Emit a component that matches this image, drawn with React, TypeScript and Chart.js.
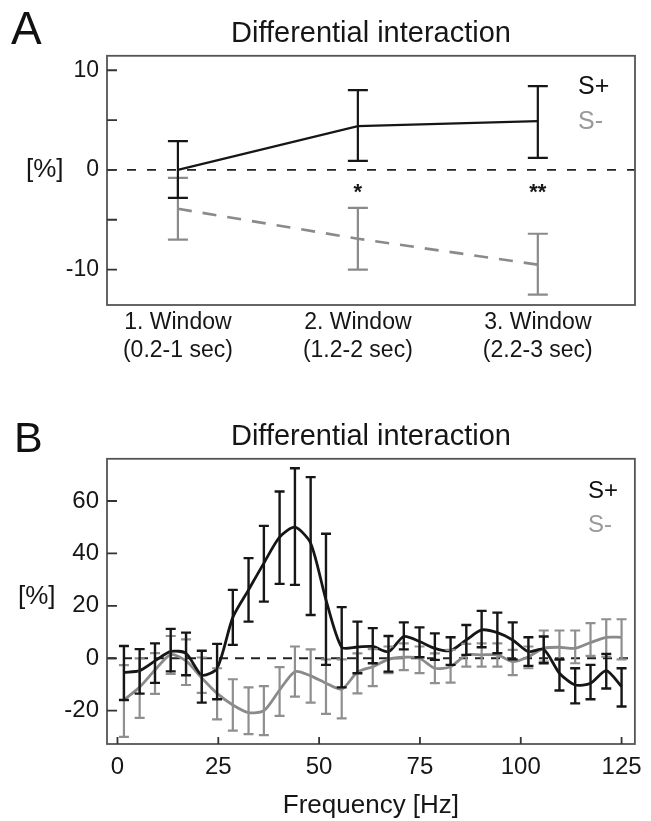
import React, { useEffect, useRef } from 'react';
import { Chart, registerables } from 'chart.js';

Chart.register(...registerables);

const FONT = "'Liberation Sans', Arial, Helvetica, sans-serif";
const TXT = '#161616';
const BLACK = '#161616';
const GRAY = '#8a8a8a';

// ---------- Panel A data ----------
const windowPositions = [1, 2, 3];
const windowLabels = [
  ['1. Window', '(0.2-1 sec)'],
  ['2. Window', '(1.2-2 sec)'],
  ['3. Window', '(2.2-3 sec)'],
];
const aSPlusMean = [0, 4.4, 4.9];
const aSPlusUpper = [2.9, 8.0, 8.4];
const aSPlusLower = [-2.8, 0.9, 1.2];
const aSMinusMean = [-3.9, -6.9, -9.5];
const aSMinusUpper = [-0.8, -3.8, -6.4];
const aSMinusLower = [-7.0, -10.0, -12.5];
const aSigMarks = ['', '*', '**'];
const aYTicks = [-10, -5, 0, 5, 10];
const aYTickLabels = ['-10', '', '0', '', '10'];

// ---------- Panel B data ----------
const freqHz = [
  1.6, 5.5, 9.3, 13.2, 17.0, 20.9, 24.7, 28.6, 32.5, 36.3, 40.2,
  44.0, 47.9, 51.7, 55.6, 59.5, 63.3, 67.2, 71.0, 74.9, 78.7, 82.6,
  86.5, 90.3, 94.2, 98.0, 101.9, 105.7, 109.6, 113.5, 117.3, 121.2, 125.0,
];
const bSPlusMean = [
  -5.4, -4.7, -1.0, 2.6, 1.9, -6.4, -3.8, 15.6, 26.1, 36.3, 46.2,
  50.0, 43.9, 22.3, 4.2, 4.3, 4.5, 2.5, 8.3, 6.4, 3.8, 2.9,
  7.0, 10.8, 9.8, 7.0, 2.5, 3.4, -5.7, -10.2, -9.5, -4.7, -10.8,
];
const bSPlusUpper = [
  4.7, 3.5, 5.7, 11.2, 9.8, 2.9, 5.5, 26.1, 38.2, 50.5, 63.6,
  72.5, 69.1, 47.5, 19.5, 14.0, 11.5, 8.5, 13.7, 11.8, 9.5, 8.0,
  12.7, 18.1, 17.4, 13.7, 8.0, 8.3, -0.4, -3.8, -2.5, 1.7, -3.8,
];
const bSPlusLower = [
  -15.9, -13.5, -9.4, -5.0, -6.5, -16.9, -15.6, 5.1, 14.0, 21.6, 28.4,
  28.0, 16.5, -2.5, -11.1, -5.7, -1.9, -5.1, 3.4, 0.4, -0.6, -2.5,
  1.3, 4.2, 1.9, -0.4, -2.9, -1.9, -12.3, -17.2, -15.6, -11.5, -18.4,
];
const bSMinusMean = [
  -15.9, -11.0, -4.5, 1.4, -1.0, -7.5, -13.4, -17.8, -20.7, -20.0, -12.1,
  -5.1, -6.7, -9.5, -11.8, -5.3, -3.2, -0.4, 0.4, 0.0, -3.8, -3.2,
  1.3, 1.3, 1.3, -1.3, 0.6, 3.8, 4.2, 3.8, 6.0, 8.0, 8.0,
];
const bSMinusUpper = [
  -2.6, 0.0, 2.0, 8.5, 7.2, 0.3, -3.8, -8.0, -11.1, -10.6, -3.4,
  4.5, 3.4, -0.4, -0.4, 1.9, 3.5, 4.5, 5.7, 4.5, 1.9, 3.2,
  5.5, 5.7, 5.7, 3.2, 4.5, 10.6, 10.6, 10.6, 13.4, 14.9, 14.9,
];
const bSMinusLower = [
  -30.0, -22.7, -13.6, -6.0, -10.2, -13.2, -23.3, -27.6, -28.9, -29.3, -22.0,
  -14.6, -16.9, -21.2, -22.9, -13.4, -10.6, -5.7, -4.5, -5.7, -9.5, -9.3,
  -3.2, -3.2, -3.2, -6.4, -3.8, -1.3, -0.6, -1.9, 0.9, 0.6, -0.4,
];
const bXTicks = [0, 25, 50, 75, 100, 125];
const bYTicks = [-20, 0, 20, 40, 60];

// ---------- decoration plugin ----------
const decorPlugin = {
  id: 'decor',
  beforeDatasetsDraw(chart: any, _args: any, opts: any) {
    const { ctx, chartArea: ca, scales } = chart;
    const y0 = scales.y.getPixelForValue(0);
    ctx.save();
    ctx.strokeStyle = opts.zeroColor;
    ctx.lineWidth = opts.zeroWidth;
    ctx.setLineDash(opts.zeroDash);
    ctx.beginPath();
    ctx.moveTo(ca.left, y0);
    ctx.lineTo(ca.right, y0);
    ctx.stroke();
    ctx.restore();
  },
  afterDatasetsDraw(chart: any, _args: any, opts: any) {
    const { ctx, chartArea: ca, scales } = chart;
    const xs = scales.x;
    const ys = scales.y;
    ctx.save();
    const dss = chart.data.datasets;
    for (let i = dss.length - 1; i >= 0; i--) {
      const ds = dss[i];
      if (!ds.errUpper) continue;
      ctx.strokeStyle = ds.errColor;
      ctx.lineWidth = ds.errWidth;
      ctx.setLineDash([]);
      ds.data.forEach((p: any, j: number) => {
        const px = xs.getPixelForValue(p.x);
        const pu = ys.getPixelForValue(ds.errUpper[j]);
        const pl = ys.getPixelForValue(ds.errLower[j]);
        const h = ds.capHalf;
        ctx.beginPath();
        ctx.moveTo(px, pu);
        ctx.lineTo(px, pl);
        ctx.moveTo(px - h, pu);
        ctx.lineTo(px + h, pu);
        ctx.moveTo(px - h, pl);
        ctx.lineTo(px + h, pl);
        ctx.stroke();
      });
    }
    ctx.strokeStyle = opts.frameColor;
    ctx.lineWidth = opts.frameWidth;
    ctx.strokeRect(ca.left, ca.top, ca.right - ca.left, ca.bottom - ca.top);
    ctx.strokeStyle = opts.tickColor;
    ctx.lineWidth = opts.tickWidth;
    ctx.beginPath();
    ys.ticks.forEach((t: any) => {
      const py = ys.getPixelForValue(t.value);
      ctx.moveTo(ca.left, py);
      ctx.lineTo(ca.left + opts.yTickLen, py);
    });
    if (opts.xTickLen) {
      xs.ticks.forEach((t: any) => {
        const px = xs.getPixelForValue(t.value);
        ctx.moveTo(px, ca.bottom);
        ctx.lineTo(px, ca.bottom - opts.xTickLen);
      });
    }
    ctx.stroke();
    if (opts.sig) {
      ctx.fillStyle = opts.sig.color;
      ctx.font = opts.sig.font;
      ctx.textAlign = 'center';
      ctx.textBaseline = 'alphabetic';
      opts.sig.labels.forEach((s: string, j: number) => {
        if (!s) return;
        ctx.fillText(s, xs.getPixelForValue(opts.sig.xs[j]), ys.getPixelForValue(opts.sig.yValue));
      });
    }
    (opts.texts || []).forEach((t: any) => {
      ctx.fillStyle = t.color;
      ctx.font = t.font;
      ctx.textAlign = t.align || 'left';
      ctx.textBaseline = t.baseline || 'alphabetic';
      ctx.fillText(t.text, t.x, t.y);
    });
    ctx.restore();
  },
};

function makeConfigA(): any {
  return {
    type: 'line',
    data: {
      datasets: [
        {
          label: 'S+',
          data: windowPositions.map((x, i) => ({ x, y: aSPlusMean[i] })),
          borderColor: BLACK,
          borderWidth: 2.2,
          pointRadius: 0,
          tension: 0,
          errUpper: aSPlusUpper,
          errLower: aSPlusLower,
          errColor: BLACK,
          errWidth: 2.2,
          capHalf: 10,
        },
        {
          label: 'S-',
          data: windowPositions.map((x, i) => ({ x, y: aSMinusMean[i] })),
          borderColor: GRAY,
          borderWidth: 2.6,
          borderDash: [14, 11],
          pointRadius: 0,
          tension: 0,
          errUpper: aSMinusUpper,
          errLower: aSMinusLower,
          errColor: GRAY,
          errWidth: 2.2,
          capHalf: 10,
        },
      ],
    },
    options: {
      responsive: false,
      animation: false,
      devicePixelRatio: 1,
      layout: { padding: { left: 0, right: 16, top: 0, bottom: 0 } },
      plugins: {
        legend: { display: false },
        tooltip: { enabled: false },
        title: {
          display: true,
          text: 'Differential interaction',
          fullSize: false,
          color: TXT,
          font: { family: FONT, size: 29, weight: 'normal', lineHeight: 1.2 },
          padding: { top: 17, bottom: 4 },
        },
        decor: {
          zeroColor: '#222',
          zeroWidth: 1.8,
          zeroDash: [9, 11],
          frameColor: '#555',
          frameWidth: 1.8,
          tickColor: '#333',
          tickWidth: 1.8,
          yTickLen: 10,
          xTickLen: 0,
          sig: { labels: aSigMarks, xs: windowPositions, yValue: -2.9, font: `bold 22px ${FONT}`, color: TXT },
          texts: [
            { text: 'A', x: 11, y: 44, font: `46px ${FONT}`, color: '#111' },
            { text: '[%]', x: 26, y: 170, font: `26px ${FONT}`, color: TXT, baseline: 'middle' },
            { text: 'S+', x: 578, y: 94, font: `25px ${FONT}`, color: '#111' },
            { text: 'S-', x: 578, y: 129, font: `25px ${FONT}`, color: '#999' },
          ],
        },
      },
      scales: {
        x: {
          type: 'linear',
          min: 0.606,
          max: 3.54,
          afterBuildTicks: (s: any) => {
            s.ticks = windowPositions.map((v) => ({ value: v }));
          },
          afterFit: (s: any) => {
            s.height = 85;
          },
          grid: { display: false, drawTicks: false },
          border: { display: false },
          ticks: {
            autoSkip: false,
            maxRotation: 0,
            minRotation: 0,
            padding: 4,
            color: TXT,
            font: { family: FONT, size: 23, lineHeight: 1.2 },
            callback: (v: number) => {
              const i = windowPositions.indexOf(v);
              return i >= 0 ? windowLabels[i] : '';
            },
          },
        },
        y: {
          type: 'linear',
          min: -13.55,
          max: 11.45,
          afterBuildTicks: (s: any) => {
            s.ticks = aYTicks.map((v) => ({ value: v }));
          },
          afterFit: (s: any) => {
            s.width = 107;
          },
          grid: { display: false, drawTicks: false },
          border: { display: false },
          ticks: {
            padding: 8,
            color: TXT,
            font: { family: FONT, size: 23 },
            callback: (v: number) => {
              const i = aYTicks.indexOf(v);
              return i >= 0 ? aYTickLabels[i] : '';
            },
          },
        },
      },
    },
    plugins: [decorPlugin],
  };
}

function makeConfigB(): any {
  return {
    type: 'line',
    data: {
      datasets: [
        {
          label: 'S+',
          data: freqHz.map((x, i) => ({ x, y: bSPlusMean[i] })),
          borderColor: BLACK,
          borderWidth: 2.8,
          pointRadius: 0,
          tension: 0.25,
          errUpper: bSPlusUpper,
          errLower: bSPlusLower,
          errColor: BLACK,
          errWidth: 2.4,
          capHalf: 5,
        },
        {
          label: 'S-',
          data: freqHz.map((x, i) => ({ x, y: bSMinusMean[i] })),
          borderColor: GRAY,
          borderWidth: 2.8,
          pointRadius: 0,
          tension: 0.25,
          errUpper: bSMinusUpper,
          errLower: bSMinusLower,
          errColor: '#8f8f8f',
          errWidth: 2.2,
          capHalf: 5,
        },
      ],
    },
    options: {
      responsive: false,
      animation: false,
      devicePixelRatio: 1,
      layout: { padding: { left: 0, right: 15, top: 0, bottom: 0 } },
      plugins: {
        legend: { display: false },
        tooltip: { enabled: false },
        title: {
          display: true,
          text: 'Differential interaction',
          fullSize: false,
          color: TXT,
          font: { family: FONT, size: 29, weight: 'normal', lineHeight: 1.2 },
          padding: { top: 30, bottom: 4 },
        },
        decor: {
          zeroColor: '#222',
          zeroWidth: 2,
          zeroDash: [9, 7],
          frameColor: '#555',
          frameWidth: 1.8,
          tickColor: '#333',
          tickWidth: 1.8,
          yTickLen: 10,
          xTickLen: 7,
          texts: [
            { text: 'B', x: 14, y: 62, font: `43px ${FONT}`, color: '#111' },
            { text: '[%]', x: 18, y: 207, font: `26px ${FONT}`, color: TXT, baseline: 'middle' },
            { text: 'S+', x: 588, y: 108, font: `24px ${FONT}`, color: '#111' },
            { text: 'S-', x: 588, y: 142, font: `24px ${FONT}`, color: '#999' },
          ],
        },
      },
      scales: {
        x: {
          type: 'linear',
          min: -2.6,
          max: 128.3,
          afterBuildTicks: (s: any) => {
            s.ticks = bXTicks.map((v) => ({ value: v }));
          },
          afterFit: (s: any) => {
            s.height = 77;
          },
          grid: { display: false, drawTicks: false },
          border: { display: false },
          title: {
            display: true,
            text: 'Frequency [Hz]',
            color: TXT,
            font: { family: FONT, size: 26, lineHeight: 1.2 },
            padding: { top: 0, bottom: 0 },
          },
          ticks: {
            autoSkip: false,
            maxRotation: 0,
            minRotation: 0,
            padding: 9,
            color: TXT,
            font: { family: FONT, size: 24, lineHeight: 1.2 },
            callback: (v: number) => String(v),
          },
        },
        y: {
          type: 'linear',
          min: -32.7,
          max: 76.1,
          afterBuildTicks: (s: any) => {
            s.ticks = bYTicks.map((v) => ({ value: v }));
          },
          afterFit: (s: any) => {
            s.width = 107;
          },
          grid: { display: false, drawTicks: false },
          border: { display: false },
          ticks: {
            padding: 8,
            color: TXT,
            font: { family: FONT, size: 24 },
            callback: (v: number) => String(v),
          },
        },
      },
    },
    plugins: [decorPlugin],
  };
}

function ChartCanvas(props: { make: () => any; top: number; width: number; height: number }) {
  const ref = useRef<HTMLCanvasElement>(null);
  useEffect(() => {
    const chart = new Chart(ref.current as HTMLCanvasElement, props.make());
    return () => chart.destroy();
  }, []);
  return (
    <canvas
      ref={ref}
      width={props.width}
      height={props.height}
      style={{ position: 'absolute', left: 0, top: props.top, width: props.width, height: props.height, display: 'block' }}
    />
  );
}

export default function App() {
  useEffect(() => {
    document.body.style.margin = '0';
    document.body.style.background = '#fff';
  }, []);
  return (
    <div style={{ position: 'relative', width: 651, height: 821, background: '#fff', overflow: 'hidden' }}>
      <ChartCanvas make={makeConfigA} top={0} width={651} height={390} />
      <ChartCanvas make={makeConfigB} top={390} width={651} height={431} />
    </div>
  );
}
